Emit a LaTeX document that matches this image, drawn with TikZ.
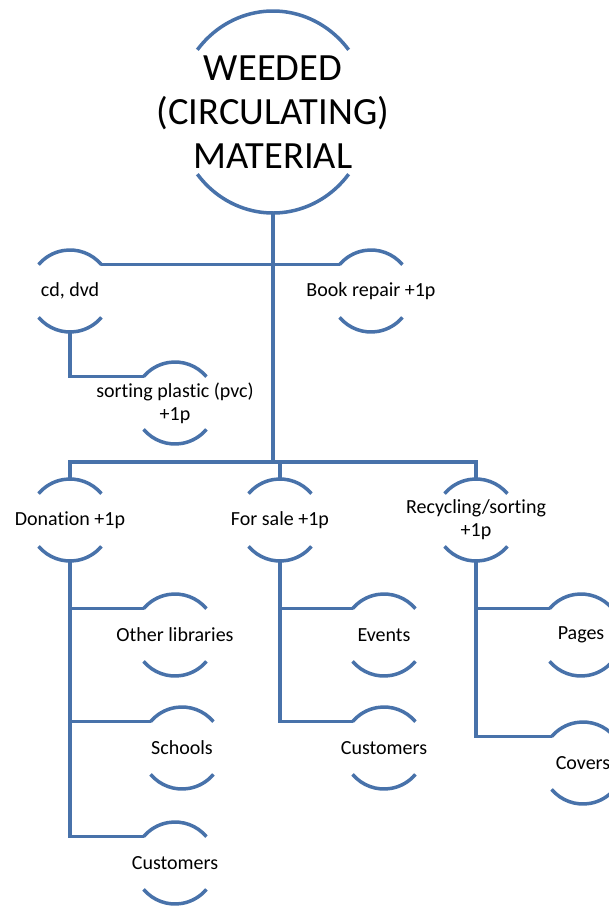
\documentclass[tikz,border=0pt]{standalone}
\usepackage{fontspec}
\setmainfont[Ligatures=NoCommon]{Carlito}
\usetikzlibrary{shapes.geometric}
\definecolor{arcblue}{RGB}{72,114,170}
\tikzset{
  line/.style={draw=arcblue, line width=3.5pt},
  lbl/.style={align=center, inner sep=0pt, font=\fontsize{20}{23}\selectfont},
  bubble/.style={circle, minimum size=82pt, inner sep=0pt, outer sep=0pt,
    label={[lbl]center:#1}}
}
\begin{document}
\begin{tikzpicture}[x=1pt, y=-1pt]
  \useasboundingbox (0,0) rectangle (609,908);
  \clip (0,0) rectangle (609,908);
  % top
  \node[ellipse, minimum width=192pt, minimum height=202pt, inner sep=0pt, outer sep=0pt,
    label={[lbl, font=\fontsize{38.5}{44}\selectfont]center:WEEDED\\(CIRCULATING)\\MATERIAL}] (main) at (273,112) {};
  \draw[line] (main.center) ++(38:96pt and 101pt) arc[start angle=38, end angle=142, x radius=96pt, y radius=101pt];
  \draw[line] (main.center) ++(218:96pt and 101pt) arc[start angle=218, end angle=322, x radius=96pt, y radius=101pt];
  % first row
  \node[bubble={cd, dvd}] (cd) at (70,291) {};
  \node[bubble={Book repair +1p}] (book) at (371,291) {};
  \node[bubble={sorting plastic (pvc)\\+1p}] (plastic) at (175,403) {};
  % second row
  \node[bubble={Donation +1p}] (donation) at (70,520) {};
  \node[bubble={For sale +1p}] (sale) at (280,520) {};
  \node[bubble={Recycling/sorting\\+1p}] (recycling) at (476,520) {};
  % leaves
  \node[bubble={Other libraries}] (libraries) at (175,635) {};
  \node[bubble={Schools}] (schools) at (182,748) {};
  \node[bubble={Customers}] (donors) at (175,863) {};
  \node[bubble={Events}] (events) at (384,635) {};
  \node[bubble={Customers}] (buyers) at (384,748) {};
  \node[bubble={Pages}] (pages) at (581,635) {};
  \node[bubble={Covers}] (covers) at (583,763) {};
  \foreach \n in {cd,book,plastic,donation,sale,recycling,libraries,schools,donors,events,buyers,pages,covers}{
    \draw[line] (\n.40) arc[start angle=40, end angle=140, radius=41pt];
    \draw[line] (\n.220) arc[start angle=220, end angle=320, radius=41pt];
  }
  % lines
  \coordinate (split) at (273,462);
  \draw[line] (main.south) -- (split);
  \draw[line] (cd.40) -- (book.140);
  \draw[line] (cd.south) |- (plastic.140);
  \draw[line] (donation.north) |- (split) -| (recycling.north);
  \draw[line] (sale.north) -- (sale.north |- split);
  \draw[line] (donation.south) |- (donors.140);
  \draw[line] (donation.south |- libraries.140) -- (libraries.140);
  \draw[line] (donation.south |- schools.140) -- (schools.140);
  \draw[line] (sale.south) |- (buyers.140);
  \draw[line] (sale.south |- events.140) -- (events.140);
  \draw[line] (recycling.south) |- (covers.140);
  \draw[line] (recycling.south |- pages.140) -- (pages.140);
\end{tikzpicture}
\end{document}
